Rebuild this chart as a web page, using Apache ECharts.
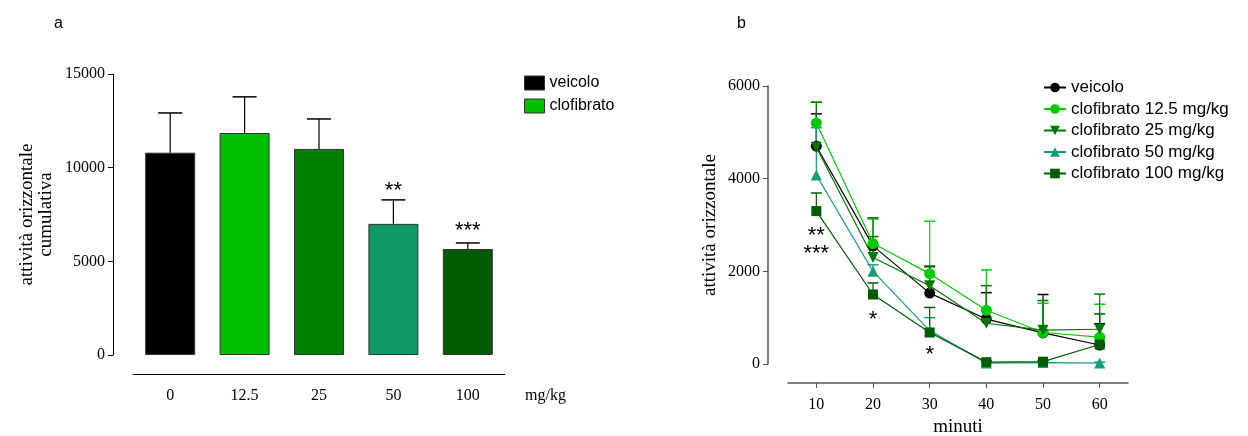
<!DOCTYPE html>
<html><head><meta charset="utf-8">
<script src="https://cdn.jsdelivr.net/npm/echarts@6/dist/echarts.min.js"></script>
<style>html,body{margin:0;padding:0;background:#fff}#c{width:1248px;height:436px}</style>
</head><body><div id="c"></div>
<script>
// ---- Panel a data ----
const doseCats = ['0', '12.5', '25', '50', '100'];
const barValues = [10800, 11850, 11000, 7000, 5660];
const barErrTop = [12920, 13780, 12600, 8280, 5980];
const barColors = ['#000000', '#00c000', '#008000', '#0f9966', '#005a00'];
const barStars = [null, null, null, '**', '***'];
const barStarY = [null, null, null, 8750, 6600];

// ---- Panel b data ----
const minutes = [10, 20, 30, 40, 50, 60];
const lineNames = ['veicolo', 'clofibrato 12.5 mg/kg', 'clofibrato 25 mg/kg', 'clofibrato 50 mg/kg', 'clofibrato 100 mg/kg'];
const veicolo = [4700, 2550, 1530, 970, 670, 410];
const clo125 = [5200, 2600, 1950, 1160, 680, 580];
const clo25 = [4680, 2300, 1690, 880, 730, 750];
const clo50 = [4080, 2000, 720, 20, 30, 20];
const clo100 = [3300, 1500, 680, 40, 50, 420];
const veicoloErr = [5400, 3150, 2100, 1540, 1500, 870];
const clo125Err = [5650, 3130, 3080, 2030, 1310, 1290];
const clo25Err = [5650, 2750, 2115, 1690, 1370, 1510];
const clo50Err = [5100, 2140, 1000, 60, 60, 40];
const clo100Err = [3690, 1750, 1220, 80, 80, 1080];
const lineColors = ['#000000', '#00cc00', '#007800', '#139e7a', '#005c00'];
const lineSymbols = ['circle', 'circle', 'triangle', 'triangle', 'rect'];
const lineSymbolRotate = [0, 0, 180, 0, 0];
const starsB = [[10, 2770, '**'], [10, 2380, '***'], [20, 950, '*'], [30, 200, '*']];

const serif = 'Liberation Serif';
const sans = 'Liberation Sans';
const B = '\u200b'; // suffix to keep panel-b legend names distinct

const chart = echarts.init(document.getElementById('c'), null, {renderer: 'canvas'});

function errSeries(xIdx, yIdx, data, color, halfW, z) {
  return {
    type: 'custom', xAxisIndex: xIdx, yAxisIndex: yIdx, z: z, silent: true,
    data: data,
    renderItem: function (params, api) {
      const p0 = api.coord([api.value(0), api.value(1)]);
      const p1 = api.coord([api.value(0), api.value(2)]);
      return {type: 'group', children: [
        {type: 'line', shape: {x1: p0[0], y1: p0[1], x2: p1[0], y2: p1[1]}, style: {stroke: color, lineWidth: 1.2}},
        {type: 'line', shape: {x1: p1[0] - halfW, y1: p1[1], x2: p1[0] + halfW, y2: p1[1]}, style: {stroke: color, lineWidth: 1.5}}
      ]};
    }
  };
}
function textSeries(xIdx, yIdx, data, size) {
  return {
    type: 'custom', xAxisIndex: xIdx, yAxisIndex: yIdx, silent: true, z: 20,
    data: data,
    renderItem: function (params, api) {
      const p = api.coord([api.value(0), api.value(1)]);
      return {type: 'text', style: {text: data[params.dataIndex][2], x: p[0], y: p[1], align: 'center', verticalAlign: 'middle', font: size + 'px ' + sans, fill: '#000'}};
    }
  };
}

const lineData = [veicolo, clo125, clo25, clo50, clo100];
const errData = [veicoloErr, clo125Err, clo25Err, clo50Err, clo100Err];

const series = [];
series.push({
  name: 'veicolo', type: 'bar', xAxisIndex: 0, yAxisIndex: 0, stack: 'a', barWidth: 50, z: 3,
  itemStyle: {color: barColors[0], borderColor: '#333', borderWidth: 1},
  data: barValues.map((v, i) => i === 0 ? v : '-')
});
series.push({
  name: 'clofibrato', type: 'bar', xAxisIndex: 0, yAxisIndex: 0, stack: 'a', barWidth: 50, z: 3,
  itemStyle: {color: barColors[1], borderColor: '#333', borderWidth: 1},
  data: barValues.map((v, i) => i === 0 ? '-' : {value: v, itemStyle: {color: barColors[i]}})
});
series.push(errSeries(0, 0, barValues.map((v, i) => [i, v, barErrTop[i]]), '#000', 12, 2));
series.push(textSeries(0, 0, barStars.map((s, i) => s ? [i, barStarY[i], s] : null).filter(Boolean), 22));

for (let k = 0; k < 5; k++) {
  series.push(errSeries(1, 1, minutes.map((m, i) => [m, lineData[k][i], errData[k][i]]), lineColors[k], 5.5, 4));
}
for (let k = 0; k < 5; k++) {
  series.push({
    name: lineNames[k] + B, type: 'line', xAxisIndex: 1, yAxisIndex: 1, z: 5 + k,
    data: minutes.map((m, i) => [m, lineData[k][i]]),
    symbol: lineSymbols[k], symbolRotate: lineSymbolRotate[k], symbolSize: k === 4 ? 10 : 11,
    showAllSymbol: true,
    lineStyle: {color: lineColors[k], width: 1.2},
    itemStyle: {color: lineColors[k]},
    emphasis: {disabled: true}
  });
}
series.push(textSeries(1, 1, starsB, 22));

const plain = v => String(v);

const option = {
  animation: false,
  backgroundColor: '#fff',
  title: [
    {text: 'a', left: 49, top: 11, textStyle: {fontFamily: sans, fontSize: 16, fontWeight: 'normal', color: '#000'}},
    {text: 'b', left: 732, top: 11, textStyle: {fontFamily: sans, fontSize: 16, fontWeight: 'normal', color: '#000'}}
  ],
  legend: [
    {data: ['veicolo', 'clofibrato'], orient: 'vertical', left: 519, top: 70, itemWidth: 20, itemHeight: 14, itemGap: 7,
     icon: 'rect', textStyle: {fontFamily: sans, fontSize: 16, color: '#000'}, selectedMode: false,
     itemStyle: {borderColor: '#333', borderWidth: 1}},
    {data: lineNames.map(n => n + B), orient: 'vertical', left: 1038, top: 74, itemWidth: 22, itemHeight: 12, itemGap: 4.5,
     formatter: n => n.replace(B, ''),
     textStyle: {fontFamily: sans, fontSize: 17, color: '#000'}, selectedMode: false}
  ],
  grid: [
    {left: 133, width: 372, top: 74, height: 281, outerBoundsMode: 'none', containLabel: false},
    {left: 788, width: 340, top: 86, height: 278, outerBoundsMode: 'none', containLabel: false}
  ],
  xAxis: [
    {type: 'category', gridIndex: 0, data: doseCats, offset: 19,
     axisLine: {onZero: false, lineStyle: {color: '#000', width: 1}}, axisTick: {show: false},
     axisLabel: {color: '#000', fontFamily: serif, fontSize: 16, margin: 14},
     name: 'mg/kg', nameLocation: 'end', nameGap: 20,
     nameTextStyle: {color: '#000', fontFamily: serif, fontSize: 16, verticalAlign: 'top', padding: [14, 0, 0, 0]}},
    {type: 'value', gridIndex: 1, min: 5, max: 65, offset: 19,
     axisLine: {onZero: false, lineStyle: {color: '#555', width: 1.5}},
     axisTick: {show: true, length: 5, lineStyle: {color: '#555'}, customValues: minutes},
     axisLabel: {color: '#000', fontFamily: serif, fontSize: 16, margin: 14, customValues: minutes},
     splitLine: {show: false},
     name: 'minuti', nameLocation: 'middle', nameGap: 35,
     nameTextStyle: {color: '#000', fontFamily: serif, fontSize: 19}}
  ],
  yAxis: [
    {type: 'value', gridIndex: 0, min: 0, max: 15000, interval: 5000, offset: 20,
     axisLine: {show: true, lineStyle: {color: '#000', width: 1}},
     axisTick: {show: true, length: 5, lineStyle: {color: '#000'}},
     axisLabel: {color: '#000', fontFamily: serif, fontSize: 16, margin: 8, formatter: plain},
     splitLine: {show: false},
     name: 'attività orizzontale\ncumulativa', nameLocation: 'middle', nameGap: 57, nameRotate: 90,
     nameTextStyle: {color: '#000', fontFamily: serif, fontSize: 19, lineHeight: 19}},
    {type: 'value', gridIndex: 1, min: 0, max: 6000, interval: 2000, offset: 20,
     axisLine: {show: true, lineStyle: {color: '#555', width: 1.5}},
     axisTick: {show: true, length: 5, lineStyle: {color: '#555'}},
     axisLabel: {color: '#000', fontFamily: serif, fontSize: 16, margin: 8, formatter: plain},
     splitLine: {show: false},
     name: 'attività orizzontale', nameLocation: 'middle', nameGap: 48, nameRotate: 90,
     nameTextStyle: {color: '#000', fontFamily: serif, fontSize: 19}}
  ],
  series: series
};
chart.setOption(option);
</script>
</body></html>
